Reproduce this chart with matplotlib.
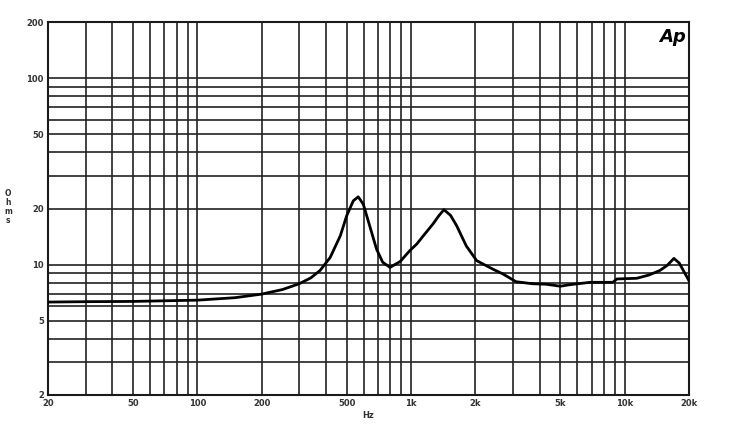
import numpy as np
import matplotlib.pyplot as plt

# impedance curve (Hz, ohms)
freq = [20, 30, 50, 70, 100, 150, 200, 250, 300, 340, 375, 418, 467, 500, 537,
        566, 598, 640, 690, 737, 798, 890, 988, 1064, 1160, 1266, 1350, 1426,
        1530, 1634, 1814, 2030, 2420, 2700, 3100, 3700, 4300, 5000, 5500, 6900,
        8800, 9200, 11400, 13000, 14600, 15800, 17000, 18000, 20000]
ohms = [6.3, 6.33, 6.35, 6.4, 6.45, 6.65, 6.95, 7.35, 7.9, 8.5, 9.3, 10.9, 14.3,
        18.3, 22.0, 23.1, 21.1, 16.2, 12.1, 10.3, 9.67, 10.4, 11.9, 12.9, 14.6,
        16.5, 18.3, 19.7, 18.4, 16.2, 12.6, 10.5, 9.45, 8.9, 8.1, 7.9, 7.85, 7.66,
        7.8, 8.04, 8.04, 8.38, 8.45, 8.8, 9.3, 9.9, 10.8, 10.2, 8.2]

x_grid = [30, 40, 50, 60, 70, 80, 90, 100, 200, 300, 400, 500, 600, 700, 800,
          900, 1000, 2000, 3000, 4000, 5000, 6000, 7000, 8000, 9000, 10000]
y_grid = [3, 4, 5, 6, 7, 8, 9, 10, 20, 30, 40, 50, 60, 70, 80, 90, 100]

x_ticks = [20, 50, 100, 200, 500, 1000, 2000, 5000, 10000, 20000]
x_labels = ['20', '50', '100', '200', '500', '1k', '2k', '5k', '10k', '20k']
y_ticks = [2, 5, 10, 20, 50, 100, 200]
y_labels = ['2', '5', '10', '20', '50', '100', '200']

fig = plt.figure(figsize=(7.31, 4.46), dpi=100)
ax = fig.add_axes([48 / 731, 1 - 395 / 446, 641 / 731, 373 / 446])

ax.set_xscale('log')
ax.set_yscale('log')
ax.set_xlim(20, 20000)
ax.set_ylim(2, 200)

for xv in x_grid:
    ax.axvline(xv, color='#222222', lw=1.2, zorder=1)
for yv in y_grid:
    ax.axhline(yv, color='#222222', lw=1.2, zorder=1)

ax.plot(freq, ohms, color='black', lw=2, zorder=3, solid_joinstyle='round')

ax.minorticks_off()
ax.set_xticks(x_ticks)
ax.set_xticklabels(x_labels)
ax.set_yticks(y_ticks)
ax.set_yticklabels(y_labels)
ax.tick_params(length=0, labelsize=6, colors='#333333', pad=3)
for lbl in ax.get_xticklabels() + ax.get_yticklabels():
    lbl.set_fontweight('bold')

for s in ax.spines.values():
    s.set_linewidth(1.5)
    s.set_color('#1a1a1a')

fig.text(368 / 731, 1 - 415 / 446, 'Hz', fontsize=6, fontweight='bold',
         color='#333333', ha='center', va='center')
fig.text(8 / 731, 1 - 207 / 446, 'O\nh\nm\ns', fontsize=5.5, fontweight='bold',
         color='#333333', ha='center', va='center', linespacing=1.0)
ax.text(0.995, 0.985, 'Ap', transform=ax.transAxes, fontsize=13,
        fontweight='bold', fontstyle='italic', ha='right', va='top', zorder=4)

fig.savefig('out.png', dpi=100)
